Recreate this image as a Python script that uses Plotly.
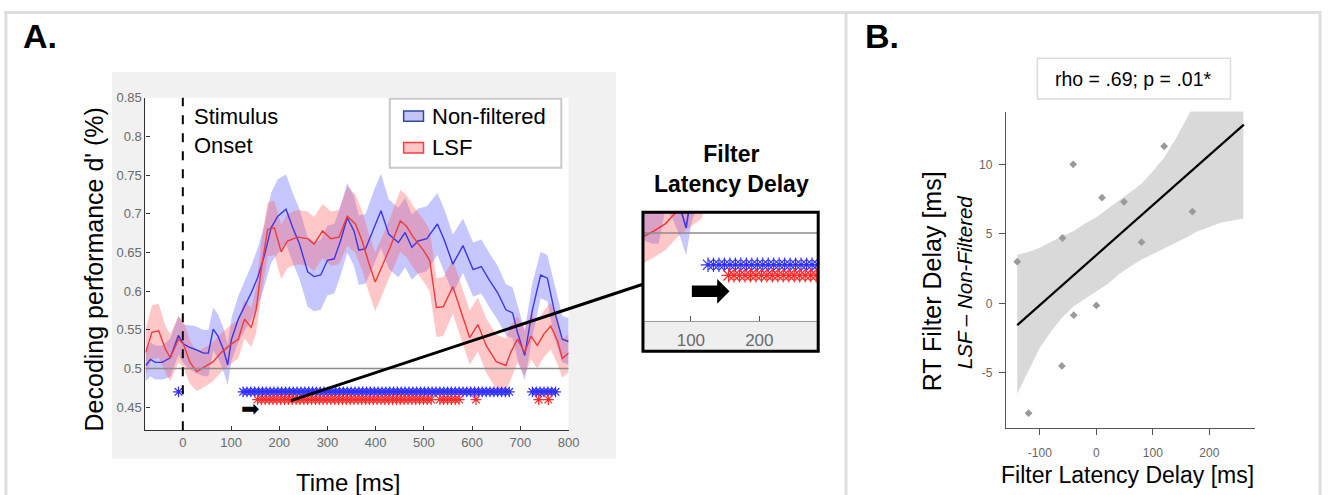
import numpy as np
import plotly.graph_objects as go

# ---------------- Panel A data ----------------
t_nf = [-77, -67, -57, -43, -26, -9, 1, 12, 25, 43, 53, 63, 73, 84, 93, 101, 115, 128, 142, 156,
        170, 183, 197, 214, 228, 242, 259, 272, 286, 300, 314, 327, 341, 355, 365, 379, 396, 411, 427, 447,
        461, 475, 488, 506, 528, 543, 560, 581, 602, 619, 636, 653, 670, 684, 694, 709, 725, 742, 756, 770,
        787, 797, 800]
nf_mean = [0.504, 0.512, 0.508, 0.508, 0.514, 0.543, 0.532, 0.528, 0.525, 0.520, 0.520, 0.551, 0.542, 0.525, 0.505,
           0.538, 0.564, 0.581, 0.598, 0.619, 0.648, 0.682, 0.697, 0.706, 0.682, 0.661, 0.625, 0.619, 0.621, 0.640,
           0.642, 0.665, 0.695, 0.678, 0.653, 0.655, 0.682, 0.704, 0.674, 0.663, 0.676, 0.657, 0.665, 0.668, 0.687,
           0.665, 0.635, 0.659, 0.628, 0.632, 0.614, 0.598, 0.576, 0.572, 0.547, 0.517, 0.576, 0.621, 0.617, 0.576,
           0.538, 0.536, 0.535]
nf_half = [0.020, 0.022, 0.022, 0.022, 0.025, 0.025, 0.025, 0.028, 0.030, 0.030, 0.030, 0.028, 0.028, 0.028, 0.026,
           0.028, 0.030, 0.032, 0.035, 0.038, 0.040, 0.045, 0.048, 0.045, 0.045, 0.045, 0.045, 0.045, 0.045, 0.045,
           0.045, 0.045, 0.045, 0.045, 0.045, 0.045, 0.048, 0.048, 0.045, 0.045, 0.045, 0.042, 0.042, 0.042, 0.040,
           0.040, 0.038, 0.035, 0.035, 0.035, 0.035, 0.035, 0.033, 0.033, 0.035, 0.032, 0.035, 0.030, 0.030, 0.035,
           0.030, 0.030, 0.030]

t_lsf = [-77, -64, -50, -36, -26, -9, 1, 15, 29, 46, 63, 80, 101, 115, 128, 142, 152, 163, 176, 190,
         204, 217, 238, 259, 272, 290, 307, 324, 341, 358, 372, 386, 399, 413, 430, 451, 464, 478, 499, 512,
         526, 540, 560, 578, 595, 612, 629, 650, 670, 680, 694, 709, 722, 735, 749, 763, 777, 787, 797, 800]
lsf_mean = [0.521, 0.547, 0.549, 0.525, 0.514, 0.538, 0.532, 0.508, 0.496, 0.502, 0.509, 0.521, 0.532, 0.538, 0.564,
            0.553, 0.576, 0.630, 0.680, 0.682, 0.651, 0.665, 0.670, 0.668, 0.661, 0.678, 0.668, 0.670, 0.697, 0.687,
            0.665, 0.636, 0.612, 0.632, 0.657, 0.691, 0.684, 0.670, 0.653, 0.640, 0.579, 0.580, 0.606, 0.572, 0.540,
            0.557, 0.530, 0.509, 0.504, 0.521, 0.538, 0.521, 0.542, 0.530, 0.545, 0.555, 0.536, 0.513, 0.519, 0.520]
lsf_half = [0.030, 0.035, 0.035, 0.030, 0.030, 0.030, 0.030, 0.028, 0.025, 0.025, 0.025, 0.025, 0.025, 0.025, 0.025,
            0.025, 0.030, 0.035, 0.035, 0.035, 0.035, 0.035, 0.035, 0.035, 0.035, 0.035, 0.035, 0.035, 0.038, 0.038,
            0.038, 0.038, 0.038, 0.038, 0.038, 0.040, 0.040, 0.040, 0.040, 0.040, 0.038, 0.038, 0.035, 0.035, 0.035,
            0.035, 0.035, 0.035, 0.035, 0.035, 0.030, 0.030, 0.030, 0.030, 0.030, 0.030, 0.030, 0.025, 0.025, 0.025]

# significant time windows (ms) and sampling step of the significance markers
sig_nf = [[-9, -9], [125, 680], [725, 773]]
sig_lsf = [[155, 522], [533, 574], [608, 608], [738, 738], [758, 758]]
sig_step = 8
sig_level_nf = 0.47
sig_level_lsf = 0.46
chance = 0.5

# ---------------- Panel B data ----------------
pts_x = [-140, -120, -61, -60, -41, -40, 0, 10, 49, 80, 120, 170]
pts_y = [3.0, -7.9, -4.5, 4.7, 10.0, -0.85, -0.15, 7.6, 7.3, 4.4, 11.3, 6.6]
band_x = [-140, -120, -100, -80, -60, -40, -20, 0, 20, 40, 60, 80, 100, 120, 140, 160, 180, 200, 220, 240, 260]
band_lo = [-6.5, -4.8, -3.2, -2.0, -1.0, -0.2, 0.35, 0.85, 1.4, 2.1, 2.65, 3.15, 3.6, 4.0, 4.35, 4.75, 5.2, 5.5, 5.8, 5.95, 6.1]
band_hi = [3.5, 3.7, 4.0, 4.45, 4.85, 5.2, 5.75, 6.2, 6.8, 7.4, 8.0, 8.6, 9.5, 10.5, 11.8, 13.3, 14.8, 16.0, 17.0, 18.0, 19.0]
fit_x = [-140, 261]
fit_y = [-1.56, 12.86]
stats_text = "rho = .69; p = .01*"

# ---------------- helpers ----------------
W, H = 1336, 495
def px(x):
    return x / W
def py(y):
    return 1 - y / H

FONT = "Liberation Sans, Arial, Helvetica, sans-serif"
BLUE_LINE = "#3838e6"
RED_LINE = "#f03a3a"
BLUE_FILL = "rgba(85,85,255,0.33)"
RED_FILL = "rgba(255,85,85,0.33)"
BLUE_STAR = "#2f2fff"
RED_STAR = "#ff2a2a"
FRAME = "#dedede"


def expand(wins):
    out = []
    for a, b in wins:
        out.extend(list(np.arange(a, b + 0.1, sig_step)))
    return out


star_nf = expand(sig_nf)
star_lsf = expand(sig_lsf)

nf_hi = [m + h for m, h in zip(nf_mean, nf_half)]
nf_lo = [m - h for m, h in zip(nf_mean, nf_half)]
lsf_hi = [m + h for m, h in zip(lsf_mean, lsf_half)]
lsf_lo = [m - h for m, h in zip(lsf_mean, lsf_half)]

fig = go.Figure()


def add_timecourse(xa, ya, star_size, line_w):
    fig.add_trace(go.Scatter(x=t_nf + t_nf[::-1], y=nf_hi + nf_lo[::-1], fill="toself",
                             fillcolor=BLUE_FILL, line=dict(width=0), mode="lines",
                             hoverinfo="skip", showlegend=False, xaxis=xa, yaxis=ya))
    fig.add_trace(go.Scatter(x=t_lsf + t_lsf[::-1], y=lsf_hi + lsf_lo[::-1], fill="toself",
                             fillcolor=RED_FILL, line=dict(width=0), mode="lines",
                             hoverinfo="skip", showlegend=False, xaxis=xa, yaxis=ya))
    fig.add_trace(go.Scatter(x=t_nf, y=nf_mean, mode="lines", line=dict(color=BLUE_LINE, width=line_w),
                             name="Non-filtered", showlegend=False, xaxis=xa, yaxis=ya))
    fig.add_trace(go.Scatter(x=t_lsf, y=lsf_mean, mode="lines", line=dict(color=RED_LINE, width=line_w),
                             name="LSF", showlegend=False, xaxis=xa, yaxis=ya))
    fig.add_trace(go.Scatter(x=star_nf, y=[sig_level_nf] * len(star_nf), mode="markers",
                             marker=dict(symbol="asterisk-open", size=star_size, color=BLUE_STAR,
                                         line=dict(color=BLUE_STAR, width=1.2)),
                             showlegend=False, xaxis=xa, yaxis=ya))
    fig.add_trace(go.Scatter(x=star_lsf, y=[sig_level_lsf] * len(star_lsf), mode="markers",
                             marker=dict(symbol="asterisk-open", size=star_size, color=RED_STAR,
                                         line=dict(color=RED_STAR, width=1.2)),
                             showlegend=False, xaxis=xa, yaxis=ya))


add_timecourse("x", "y", 9, 1.4)
add_timecourse("x2", "y2", 12, 1.6)

# Panel B
fig.add_trace(go.Scatter(x=band_x + band_x[::-1], y=band_hi + band_lo[::-1], fill="toself",
                         fillcolor="#d9d9d9", line=dict(width=0), mode="lines", hoverinfo="skip",
                         showlegend=False, xaxis="x3", yaxis="y3"))
fig.add_trace(go.Scatter(x=fit_x, y=fit_y, mode="lines", line=dict(color="black", width=2.2),
                         showlegend=False, xaxis="x3", yaxis="y3"))
fig.add_trace(go.Scatter(x=pts_x, y=pts_y, mode="markers",
                         marker=dict(symbol="diamond", size=6, color="#9a9a9a"),
                         showlegend=False, xaxis="x3", yaxis="y3"))

shapes = []
# outer frame & divider
shapes.append(dict(type="line", xref="paper", yref="paper", x0=px(4), x1=px(1332), y0=py(5.5), y1=py(5.5),
                   line=dict(color=FRAME, width=3), layer="below"))
shapes.append(dict(type="line", xref="paper", yref="paper", x0=px(6), x1=px(6), y0=py(4), y1=0,
                   line=dict(color=FRAME, width=3), layer="below"))
shapes.append(dict(type="line", xref="paper", yref="paper", x0=px(1331), x1=px(1331), y0=py(4), y1=0,
                   line=dict(color=FRAME, width=3), layer="below"))
shapes.append(dict(type="line", xref="paper", yref="paper", x0=px(853), x1=px(853), y0=py(5.5), y1=0,
                   line=dict(color=FRAME, width=3), layer="below"))
# gray background of panel A figure
shapes.append(dict(type="rect", xref="paper", yref="paper", x0=px(113), x1=px(621), y0=py(458), y1=py(66),
                   line=dict(width=0), fillcolor="#f0f1f0", layer="below"))
shapes.append(dict(type="rect", xref="paper", yref="paper", x0=px(146.7), x1=px(573.3), y0=py(429.3), y1=py(92),
                   line=dict(width=0), fillcolor="white", layer="below"))
# chance level lines
shapes.append(dict(type="line", xref="x domain", yref="y", x0=0, x1=1, y0=chance, y1=chance,
                   line=dict(color="#8c8c8c", width=1.5), layer="above"))
shapes.append(dict(type="line", xref="x2 domain", yref="y2", x0=0, x1=1, y0=chance, y1=chance,
                   line=dict(color="#8c8c8c", width=1.5), layer="above"))
# stimulus onset
shapes.append(dict(type="line", xref="x", yref="y domain", x0=0, x1=0, y0=0, y1=1,
                   line=dict(color="black", width=2, dash="dash"), layer="above"))
# legend box
shapes.append(dict(type="rect", xref="paper", yref="paper", x0=px(393), x1=px(566), y0=py(163), y1=py(93),
                   line=dict(color="#c9c9c9", width=2), fillcolor="white", layer="above"))
shapes.append(dict(type="rect", xref="paper", yref="paper", x0=px(407), x1=px(427), y0=py(116), y1=py(105.5),
                   line=dict(color="#2f4c9c", width=1.5), fillcolor="#c4c4f7", layer="above"))
shapes.append(dict(type="rect", xref="paper", yref="paper", x0=px(407), x1=px(427), y0=py(148), y1=py(137.5),
                   line=dict(color="#ff3b3b", width=1.5), fillcolor="#ffc6c6", layer="above"))
# inset tick strip & frame
shapes.append(dict(type="rect", xref="paper", yref="paper", x0=px(648.3), x1=px(825), y0=py(349.3), y1=py(318.3),
                   line=dict(width=0), fillcolor="#efefef", layer="below"))
shapes.append(dict(type="rect", xref="paper", yref="paper", x0=px(648.3), x1=px(825), y0=py(349.3), y1=py(208.3),
                   line=dict(color="black", width=3), fillcolor="rgba(0,0,0,0)", layer="above"))
# connector line from main plot to inset
shapes.append(dict(type="line", xref="paper", yref="paper", x0=px(293.3), y0=py(399.3), x1=px(649), y1=py(281),
                   line=dict(color="black", width=3), layer="above"))
# stats box panel B
shapes.append(dict(type="rect", xref="paper", yref="paper", x0=px(1046), x1=px(1240.7), y0=py(93.3), y1=py(52),
                   line=dict(color="#dcdcdc", width=1.5), fillcolor="white", layer="above"))

ann = []
def A(text, x, y, size, xanchor="center", yanchor="middle", angle=0, color="black", family=FONT, **kw):
    ann.append(dict(text=text, x=px(x), y=py(y), xref="paper", yref="paper", showarrow=False,
                    xanchor=xanchor, yanchor=yanchor, textangle=angle,
                    font=dict(size=size, color=color, family=family), **kw))

A("<b>A.</b>", 21, 29, 34, xanchor="left")
A("<b>B.</b>", 870, 29, 34, xanchor="left")
A("Decoding performance d' (%)", 95, 266, 25, angle=-90)
A("Time [ms]", 351, 482, 24)
A("Stimulus<br>Onset", 194, 125.5, 22, xanchor="left", align="left")
A("Non-filtered", 434, 110.7, 22, xanchor="left")
A("LSF", 434, 142.7, 22, xanchor="left")
A("<b>Filter<br>Latency Delay</b>", 738, 164.7, 23)
A(stats_text, 1143.4, 72.7, 19.5)
A("RT Filter Delay [ms]", 940, 278, 25, angle=-90)
A("<i>LSF – Non-Filtered</i>", 972, 279, 20.5, angle=-90)
A("Filter Latency Delay [ms]", 1137, 475, 23)

# block arrows marking filter latency onset
ann.append(dict(text="➡", x=139, y=0.449, xref="x", yref="y", showarrow=False,
                font=dict(size=22, color="black", family="DejaVu Sans")))
ann.append(dict(text="➡", x=128, y=0.446, xref="x2", yref="y2", showarrow=False,
                font=dict(size=50, color="black", family="DejaVu Sans")))

axis_common = dict(showgrid=False, zeroline=False, showline=True)

fig.update_layout(
    width=W, height=H, margin=dict(l=0, r=0, t=0, b=0), autosize=False,
    paper_bgcolor="white", plot_bgcolor="white",
    font=dict(family=FONT, color="black"),
    showlegend=False,
    shapes=shapes, annotations=ann,
    xaxis=dict(domain=[px(146.7), px(573.3)], range=[-77.4, 800], anchor="y",
               tickvals=[0, 100, 200, 300, 400, 500, 600, 700, 800],
               ticks="inside", ticklen=4, tickcolor="#333", linecolor="#333", linewidth=1.2,
               tickfont=dict(size=13, color="#6a6a6a"), **axis_common),
    yaxis=dict(domain=[py(429.3), py(92)], range=[0.4203, 0.8503], anchor="x",
               tickvals=[0.45, 0.5, 0.55, 0.6, 0.65, 0.7, 0.75, 0.8, 0.85],
               ticktext=["0.45", "0.5", "0.55", "0.6", "0.65", "0.7", "0.75", "0.8", "0.85"],
               ticks="inside", ticklen=4, tickcolor="#333", linecolor="#333", linewidth=1.2,
               tickfont=dict(size=13, color="#6a6a6a"), **axis_common),
    xaxis2=dict(domain=[px(648.3), px(825)], range=[30, 286], anchor="y2",
                tickvals=[100, 200], ticks="inside", ticklen=5, tickcolor="#555",
                linecolor="#9a9a9a", linewidth=1, tickfont=dict(size=17, color="#6a6a6a"),
                ticklabelstandoff=4, **axis_common),
    yaxis2=dict(domain=[py(318.3), py(208.3)], range=[0.417, 0.5196], anchor="x2",
                visible=False),
    xaxis3=dict(domain=[px(1014.3), px(1265)], range=[-160, 280], anchor="y3",
                tickvals=[-100, 0, 100, 200], ticktext=["-100", "0", "100", "200"],
                ticks="outside", ticklen=6, tickcolor="#555", linecolor="#555", linewidth=1.2,
                tickfont=dict(size=12, color="#666"), ticklabelstandoff=8, **axis_common),
    yaxis3=dict(domain=[py(426.7), py(106)], range=[-8.94, 13.8], anchor="x3",
                tickvals=[-5, 0, 5, 10], ticktext=["-5", "0", "5", "10"],
                ticks="outside", ticklen=6, tickcolor="#555", linecolor="#555", linewidth=1.2,
                tickfont=dict(size=12, color="#666"), ticklabelstandoff=4, **axis_common),
)

fig.write_html("out.html", config={"displayModeBar": False},
               post_script="document.body.style.margin='0';document.body.style.overflow='hidden';")
